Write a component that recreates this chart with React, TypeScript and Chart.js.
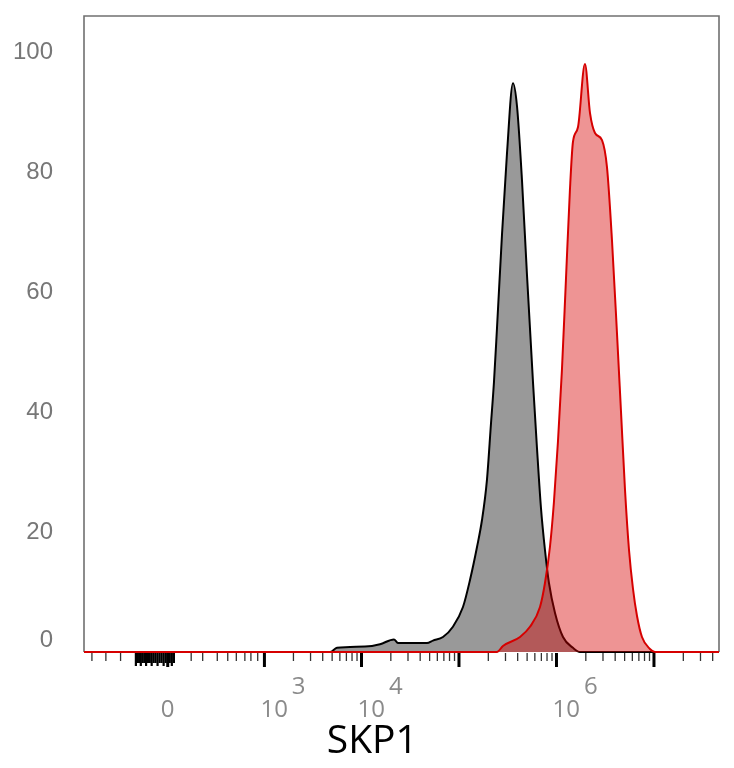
import { useEffect, useRef } from "react";
import { Chart, registerables } from "chart.js";

Chart.register(...registerables);

// Histogram bins: x in display decades (10^k -> k), y in % of max
const GRAY_X = [1.0, 3.677, 3.749, 4.036, 4.19, 4.333, 4.374, 4.672, 4.733, 4.836, 4.938, 5.041, 5.113, 5.185, 5.236, 5.287, 5.328, 5.359, 5.39, 5.441, 5.492, 5.554, 5.595, 5.646, 5.697, 5.759, 5.8, 5.841, 5.882, 5.923, 5.985, 6.067, 6.169, 6.241, 8.0];
const GRAY_Y = [0, 0, 0.7, 0.9, 1.3, 2.1, 1.5, 1.5, 1.9, 2.5, 4.2, 7.5, 12, 17.5, 22, 28.7, 38, 45, 54, 69.5, 83, 94.8, 91, 78.7, 63, 45, 34, 24, 17, 11.5, 6.5, 2.5, 0.7, 0, 0];

const RED_X = [1.0, 5.39, 5.451, 5.626, 5.728, 5.831, 5.882, 5.933, 5.974, 6.015, 6.056, 6.097, 6.138, 6.169, 6.221, 6.292, 6.344, 6.395, 6.467, 6.518, 6.569, 6.621, 6.662, 6.703, 6.744, 6.785, 6.826, 6.877, 6.959, 7.01, 8.0];
const RED_Y = [0, 0, 1, 2.5, 4.2, 7.5, 11.5, 17.5, 25, 35, 47, 62, 77, 85, 87.5, 98, 89.8, 86.5, 85.3, 80.8, 68.7, 53, 40, 27, 17, 10.5, 6, 2.5, 0.5, 0, 0];

const Y_TICKS = [0, 20, 40, 60, 80, 100];
const X_LABEL_VALUES = [0, 1e3, 1e4, 1e6];
const X_LABEL_EXPONENTS = ["", "3", "4", "6"];
const MAJOR_TICKS = [0, 1e3, 1e4, 1e5, 1e6, 1e7];
const NEG_TICKS = [-600, -420, -280];
const ZERO_BLOCK_TICKS = [-170, -160, -150, -140, -130, -120, -110, -100, -90, -80, -70, -60, -50, -40, -30, -20, -10, 10, 20, 30];
const LOW_TICKS = [120, 190, 300, 400, 500, 620, 720, 850];
const MINOR_MULTIPLIERS = [2, 3, 4, 5, 6, 7, 8, 9];
const MINOR_DECADES = [3, 4, 5, 6, 7];
const AXIS_TITLE = "SKP1";

const X_MIN = 1.154;
const X_MAX = 7.667;
const Y_MAX = 106;

// biexponential-like display transform (arcsinh), ~log10 for large values
const W = 103;
const toDisplay = (v: number) => Math.log10(W) + Math.asinh(v / (2 * W)) / Math.LN10;

const flowAxes = {
  id: "flowAxes",
  beforeDatasetsDraw(chart: any) {
    const { ctx, chartArea } = chart;
    const { left, top, right, bottom } = chartArea;
    ctx.save();
    ctx.strokeStyle = "#707070";
    ctx.lineWidth = 1.6;
    ctx.beginPath();
    ctx.moveTo(left, bottom);
    ctx.lineTo(left, top);
    ctx.lineTo(right, top);
    ctx.lineTo(right, bottom);
    ctx.stroke();
    ctx.restore();
  },
  afterDraw(chart: any) {
    const { ctx, chartArea } = chart;
    const xs = chart.scales.x;
    const ys = chart.scales.y;
    const base = chartArea.bottom;
    ctx.save();
    ctx.lineCap = "butt";
    const tick = (v: number, len: number, w: number, color: string) => {
      const px = xs.getPixelForValue(toDisplay(v));
      if (px < chartArea.left || px > chartArea.right) return;
      ctx.beginPath();
      ctx.strokeStyle = color;
      ctx.lineWidth = w;
      ctx.moveTo(px, base + 1);
      ctx.lineTo(px, base + len);
      ctx.stroke();
    };
    NEG_TICKS.forEach((v) => tick(v, 9, 1.3, "#333"));
    LOW_TICKS.forEach((v) => tick(v, 9, 1.3, "#333"));
    MINOR_DECADES.forEach((k) =>
      MINOR_MULTIPLIERS.forEach((m) => tick(m * Math.pow(10, k), 9, 1.3, "#333"))
    );
    ZERO_BLOCK_TICKS.forEach((v, i) => tick(v, i % 3 === 0 ? 14 : 11, 2.2, "#000"));
    MAJOR_TICKS.forEach((v) => tick(v, 15, 3, "#000"));

    // x labels
    ctx.fillStyle = "#8a8a8a";
    ctx.font = '24px "Open Sans"';
    ctx.textBaseline = "middle";
    X_LABEL_VALUES.forEach((v, i) => {
      const px = xs.getPixelForValue(toDisplay(v));
      const exp = X_LABEL_EXPONENTS[i];
      if (!exp) {
        ctx.textAlign = "center";
        ctx.fillText("0", px, base + 58);
      } else {
        ctx.textAlign = "left";
        const x0 = px - 4;
        ctx.fillText("10", x0, base + 58);
        const w = ctx.measureText("10").width;
        ctx.fillText(exp, x0 + w + 4, base + 35);
      }
    });

    // y labels
    ctx.fillStyle = "#777";
    ctx.font = '24px "Liberation Sans"';
    ctx.textAlign = "right";
    Y_TICKS.forEach((v) => {
      const py = Math.min(ys.getPixelForValue(v), base - 12);
      ctx.fillText(String(v), chartArea.left - 31, py);
    });

    // axis title
    ctx.fillStyle = "#000";
    ctx.font = '39px "Open Sans"';
    ctx.textAlign = "center";
    ctx.fillText(AXIS_TITLE, chartArea.left + 0.454 * (chartArea.right - chartArea.left), base + 90);
    ctx.restore();
  },
};

export default function App() {
  const ref = useRef<HTMLCanvasElement>(null);
  useEffect(() => {
    const chart = new Chart(ref.current as HTMLCanvasElement, {
      type: "line",
      data: {
        datasets: [
          {
            label: "SKP1",
            data: RED_X.map((x, i) => ({ x, y: RED_Y[i] })),
            borderColor: "#d60000",
            backgroundColor: "rgba(215,0,0,0.42)",
            borderWidth: 2,
            fill: "origin",
            pointRadius: 0,
            cubicInterpolationMode: "monotone",
            clip: { left: 0, right: 0, top: 0, bottom: 2 },
          },
          {
            label: "Control",
            data: GRAY_X.map((x, i) => ({ x, y: GRAY_Y[i] })),
            borderColor: "#000",
            backgroundColor: "rgba(0,0,0,0.4)",
            borderWidth: 2,
            fill: "origin",
            pointRadius: 0,
            cubicInterpolationMode: "monotone",
            clip: { left: 0, right: 0, top: 0, bottom: 2 },
          },
        ],
      },
      options: {
        animation: false,
        responsive: false,
        events: [],
        layout: { padding: { top: 16, right: 15, left: 0, bottom: 0 } },
        plugins: { legend: { display: false }, tooltip: { enabled: false } },
        scales: {
          x: {
            type: "linear",
            min: X_MIN,
            max: X_MAX,
            ticks: { display: false },
            grid: { display: false },
            border: { display: false },
            afterFit: (s: any) => {
              s.height = 116;
            },
          },
          y: {
            min: 0,
            max: Y_MAX,
            ticks: { display: false },
            grid: { display: false },
            border: { display: false },
            afterFit: (s: any) => {
              s.width = 84;
            },
          },
        },
      },
      plugins: [flowAxes],
    } as any);
    return () => chart.destroy();
  }, []);
  return (
    <div style={{ position: "fixed", left: 0, top: 0, width: 734, height: 768, background: "#fff" }}>
      <canvas ref={ref} width={734} height={768} style={{ display: "block" }} />
    </div>
  );
}
